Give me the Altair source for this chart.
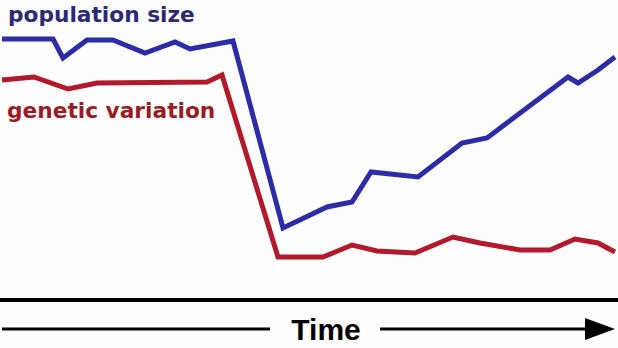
import altair as alt
import pandas as pd

# Population size series (time, level)
pop_time = [2, 53, 63, 87, 113, 145, 175, 190, 233, 283, 327, 352, 371, 418, 462, 487, 568, 578, 598, 615]
pop_value = [309, 309, 290, 308, 308, 295, 306, 299, 307, 120, 141, 146, 176, 171, 205, 210, 271, 265, 278, 291]

# Genetic variation series (time, level)
gen_time = [2, 34, 68, 97, 207, 222, 278, 323, 352, 377, 415, 453, 480, 520, 550, 575, 598, 615]
gen_value = [268, 271, 259, 265, 266, 273, 91, 91, 103, 97, 95, 111, 105, 98, 98, 109, 105, 96]

labels = ["population size", "genetic variation"]
label_colors = ["#2c2a72", "#981c26"]
line_colors = ["#2c2ca6", "#b01a2a"]

W, H = 618, 348
xs = alt.Scale(domain=[0, W], nice=False, zero=False)
ys = alt.Scale(domain=[0, H], nice=False, zero=False)

pop_df = pd.DataFrame({"t": pop_time, "v": pop_value})
gen_df = pd.DataFrame({"t": gen_time, "v": gen_value})

def line(df, color):
    return alt.Chart(df).mark_line(color=color, strokeWidth=5, strokeJoin="miter").encode(
        x=alt.X("t:Q", scale=xs, axis=None),
        y=alt.Y("v:Q", scale=ys, axis=None),
        order="t:Q",
    )

pop_line = line(pop_df, line_colors[0])
gen_line = line(gen_df, line_colors[1])

lab_df = pd.DataFrame({"t": [8, 7], "v": [326, 230], "label": labels, "c": label_colors})
label_layer = alt.Chart(lab_df).mark_text(
    align="left", baseline="alphabetic", font="DejaVu Sans", fontWeight="bold", fontSize=21.7
).encode(
    x=alt.X("t:Q", scale=xs, axis=None),
    y=alt.Y("v:Q", scale=ys, axis=None),
    text="label:N",
    color=alt.Color("c:N", scale=None, legend=None),
)

# baseline (time axis)
axis_df = pd.DataFrame({"t": [0], "t2": [W], "v": [48]})
axis_line = alt.Chart(axis_df).mark_rule(color="black", strokeWidth=4).encode(
    x=alt.X("t:Q", scale=xs, axis=None), x2="t2:Q", y=alt.Y("v:Q", scale=ys, axis=None)
)

# arrow under the axis
arrow_df = pd.DataFrame({"t": [2, 380], "t2": [270, 592], "v": [19, 19]})
arrow_lines = alt.Chart(arrow_df).mark_rule(color="black", strokeWidth=3).encode(
    x=alt.X("t:Q", scale=xs, axis=None), x2="t2:Q", y=alt.Y("v:Q", scale=ys, axis=None)
)
head_df = pd.DataFrame({"t": [600], "v": [19]})
arrow_head = alt.Chart(head_df).mark_point(
    shape="M-1,-0.73L1,0L-1,0.73Z", size=900, filled=True, color="black", opacity=1
).encode(x=alt.X("t:Q", scale=xs, axis=None), y=alt.Y("v:Q", scale=ys, axis=None))

time_df = pd.DataFrame({"t": [326], "v": [8], "label": ["Time"]})
time_text = alt.Chart(time_df).mark_text(
    align="center", baseline="alphabetic", font="Liberation Sans", fontWeight="bold", fontSize=30, color="black"
).encode(
    x=alt.X("t:Q", scale=xs, axis=None), y=alt.Y("v:Q", scale=ys, axis=None), text="label:N"
)

chart = alt.layer(
    axis_line, arrow_lines, arrow_head, time_text, gen_line, pop_line, label_layer
).properties(
    width=W, height=H, padding=0, autosize=alt.AutoSizeParams(type="none"), background="#fdfdfd"
).configure_view(stroke=None)

chart.save("out.html", embed_options={"renderer": "svg", "actions": False})
